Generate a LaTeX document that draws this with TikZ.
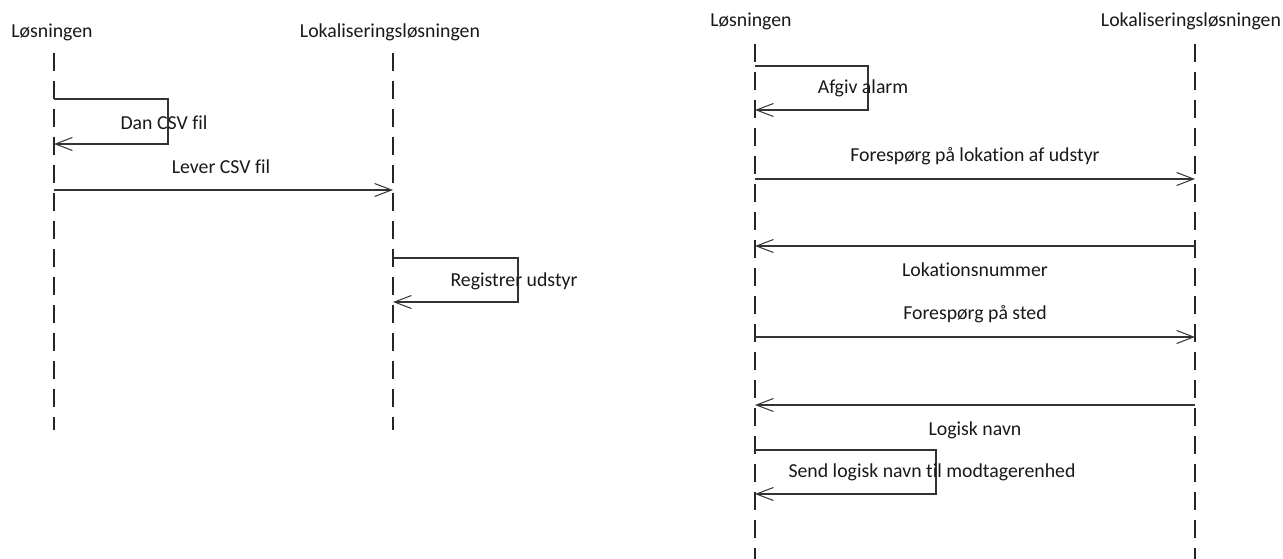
\documentclass[tikz,border=0pt]{standalone}
\usepackage{fontspec}
\setmainfont[Ligatures={NoCommon}]{Carlito}
\usetikzlibrary{arrows.meta}
\tikzset{
  lbl/.style={font=\fontsize{19.8}{22}\selectfont, text=black!90, inner sep=0pt, anchor=center},
  life/.style={line width=1.1pt, draw=black!85, dash pattern=on 18pt off 10pt},
  msg/.style={line width=1.1pt, draw=black!80, -{Straight Barb[length=17pt,width=13pt,line width=1pt]}},
}
\begin{document}
\begin{tikzpicture}[x=1pt,y=-1pt]
\useasboundingbox (0,0) rectangle (1283,559);
\fill[white] (0,0) rectangle (1283,559);
% ---------- left diagram ----------
\node[lbl] (hA) at (52,32) {Løsningen};
\node[lbl] (hB) at (390,32) {Lokaliseringsløsningen};
\coordinate (A0) at (54,53);  \coordinate (A1) at (54,430);
\coordinate (B0) at (393,53); \coordinate (B1) at (393,430);
\draw[life] (A0) -- (A1);
\draw[life] (B0) -- (B1);
% Dan CSV fil
\coordinate (d1s) at (54,99); \coordinate (d1e) at (54,144);
\draw[msg] (d1s) -- (168,99) |- (d1e);
\node[lbl] (t1) at (164,123) {Dan CSV fil};
% Lever CSV fil
\coordinate (l1s) at (54,190); \coordinate (l1e) at (393,190);
\draw[msg] (l1s) -- (l1e);
\node[lbl] (t2) at (221,167) {Lever CSV fil};
% Registrer udstyr
\coordinate (r1s) at (393,258); \coordinate (r1e) at (393,302);
\draw[msg] (r1s) -- (518,258) |- (r1e);
\node[lbl] (t3) at (514,281) {Registrer udstyr};
% ---------- right diagram ----------
\node[lbl] (hC) at (751,21) {Løsningen};
\node[lbl] (hD) at (1191,21) {Lokaliseringsløsningen};
\coordinate (C0) at (755,44);  \coordinate (C1) at (755,559);
\coordinate (D0) at (1195,44); \coordinate (D1) at (1195,559);
\draw[life] (C0) -- (C1);
\draw[life] (D0) -- (D1);
% Afgiv alarm
\coordinate (a1s) at (755,66); \coordinate (a1e) at (755,110);
\draw[msg] (a1s) -- (868,66) |- (a1e);
\node[lbl] (t4) at (863,88) {Afgiv alarm};
% Forespørg på lokation af udstyr
\coordinate (f1s) at (755,179); \coordinate (f1e) at (1195,179);
\draw[msg] (f1s) -- (f1e);
\node[lbl] (t5) at (975,156) {Forespørg på lokation af udstyr};
% Lokationsnummer
\coordinate (k1s) at (1195,246); \coordinate (k1e) at (755,246);
\draw[msg] (k1s) -- (k1e);
\node[lbl] (t6) at (975,270) {Lokationsnummer};
% Forespørg på sted
\coordinate (f2s) at (755,337); \coordinate (f2e) at (1195,337);
\draw[msg] (f2s) -- (f2e);
\node[lbl] (t7) at (975,314) {Forespørg på sted};
% Logisk navn
\coordinate (g1s) at (1195,405); \coordinate (g1e) at (755,405);
\draw[msg] (g1s) -- (g1e);
\node[lbl] (t8) at (975,430) {Logisk navn};
% Send logisk navn til modtagerenhed
\coordinate (s1s) at (755,450); \coordinate (s1e) at (755,494);
\draw[msg] (s1s) -- (936,450) |- (s1e);
\node[lbl] (t9) at (932,472) {Send logisk navn til modtagerenhed};
\end{tikzpicture}
\end{document}
